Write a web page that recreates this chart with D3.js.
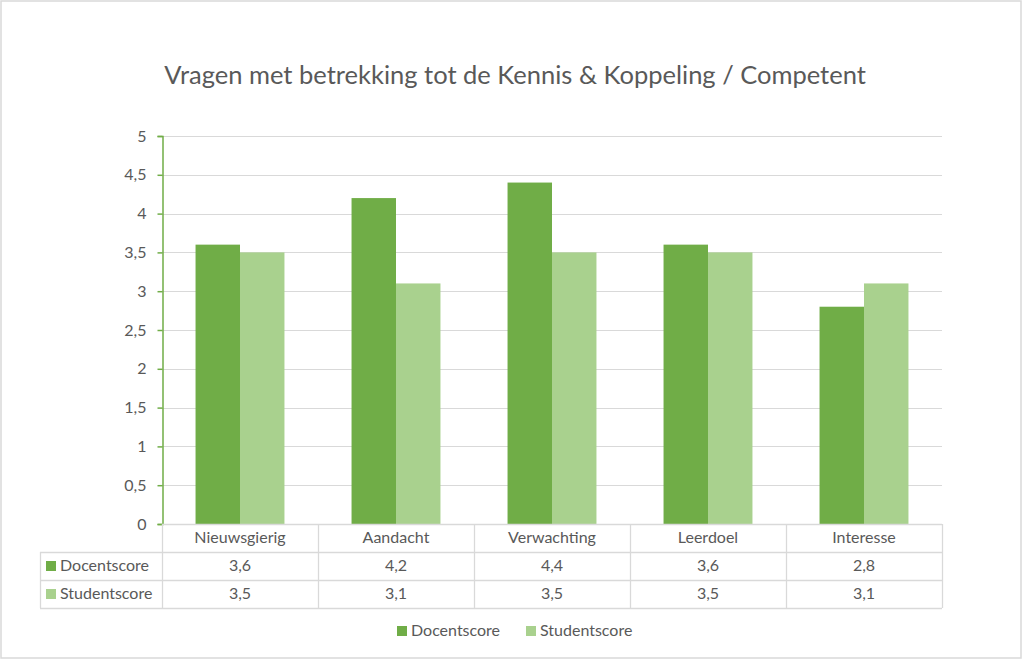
<!DOCTYPE html>
<html><head><meta charset="utf-8">
<script src="https://cdn.jsdelivr.net/npm/d3@7"></script>
<style>body{margin:0;background:#fff;} svg{display:block;}</style>
</head><body>
<script>
const categories = ["Nieuwsgierig","Aandacht","Verwachting","Leerdoel","Interesse"];
const seriesNames = ["Docentscore","Studentscore"];
const docentscore = [3.6,4.2,4.4,3.6,2.8];
const studentscore = [3.5,3.1,3.5,3.5,3.1];
const yTicks = [0,0.5,1,1.5,2,2.5,3,3.5,4,4.5,5];
const title = "Vragen met betrekking tot de Kennis & Koppeling / Competent";

const W=1023,H=660;
const colors=["#70ad47","#a9d18e"];
const font="Lato, 'Open Sans', sans-serif";
const textCol="#595959", gridCol="#d9d9d9";
const series=[docentscore,studentscore];
const fs=16;

const svg=d3.select("body").append("svg").attr("width",W).attr("height",H);
svg.append("rect").attr("x",1).attr("y",1).attr("width",W-3).attr("height",H-3)
  .attr("fill","#fff").attr("stroke","#d9d9d9").attr("stroke-width",1.5);

const L=162,R=942,T=136,B=524;
const x0=d3.scaleBand().domain(categories).range([L,R]).paddingInner(0.43).paddingOuter(0.215);
const x1=d3.scaleBand().domain(seriesNames).range([0,x0.bandwidth()]);
const y=d3.scaleLinear().domain([0,5]).range([B,T]);

// title
svg.append("text").attr("x",515).attr("y",84).attr("text-anchor","middle")
  .attr("font-family",font).attr("font-size",25.5).attr("fill",textCol).text(title);

// grid
svg.append("g").selectAll("line").data(yTicks.filter(d=>d>0)).join("line")
  .attr("x1",L).attr("x2",R).attr("y1",d=>Math.round(y(d))+0.5).attr("y2",d=>Math.round(y(d))+0.5)
  .attr("stroke",gridCol).attr("stroke-width",1);

// bars
const g=svg.append("g");
categories.forEach((c,i)=>{
  seriesNames.forEach((s,j)=>{
    g.append("rect").attr("x",x0(c)+x1(s)).attr("width",x1.bandwidth())
     .attr("y",y(series[j][i])).attr("height",B-y(series[j][i])).attr("fill",colors[j]);
  });
});

// y axis
const ya=svg.append("g").attr("transform",`translate(${L+0.5},0)`)
  .call(d3.axisLeft(y).tickValues(yTicks).tickSize(5).tickPadding(11).tickFormat(d=>String(d).replace(".",",")));
ya.select(".domain").attr("stroke","#70ad47").attr("stroke-width",1.5);
ya.selectAll(".tick line").attr("stroke","#70ad47").attr("stroke-width",1.5);
ya.selectAll("text").attr("font-family",font).attr("font-size",fs).attr("fill",textCol);

// data table
const rowH=28, tableL=40;
const rows=[B,B+rowH,B+2*rowH,B+3*rowH];
const tg=svg.append("g").attr("stroke",gridCol).attr("stroke-width",1.3).attr("fill","none");
tg.append("line").attr("x1",L).attr("x2",R).attr("y1",B+0.5).attr("y2",B+0.5);
[1,2,3].forEach(k=>tg.append("line").attr("x1",tableL).attr("x2",R).attr("y1",rows[k]+0.5).attr("y2",rows[k]+0.5));
tg.append("line").attr("x1",tableL+0.5).attr("x2",tableL+0.5).attr("y1",rows[1]).attr("y2",rows[3]);
const bounds=[L].concat(categories.map(c=>x0(c)+x0.bandwidth()+x0.step()*0.43/2));
bounds.forEach((bx,k)=>tg.append("line").attr("x1",Math.round(bx)+0.5).attr("x2",Math.round(bx)+0.5)
  .attr("y1",B).attr("y2",rows[3]));

categories.forEach((c,i)=>{
  const cx=x0(c)+x0.bandwidth()/2;
  svg.append("text").attr("x",cx).attr("y",B+19).attr("text-anchor","middle")
    .attr("font-family",font).attr("font-size",fs).attr("fill",textCol).text(c);
  series.forEach((s,j)=>{
    svg.append("text").attr("x",cx).attr("y",rows[j+1]+19).attr("text-anchor","middle")
      .attr("font-family",font).attr("font-size",fs).attr("fill",textCol).text(String(s[i]).replace(".",","));
  });
});
seriesNames.forEach((s,j)=>{
  svg.append("rect").attr("x",46).attr("y",rows[j+1]+9).attr("width",10).attr("height",10).attr("fill",colors[j]);
  svg.append("text").attr("x",60).attr("y",rows[j+1]+19)
    .attr("font-family",font).attr("font-size",fs).attr("fill",textCol).text(s);
});

// legend
const lg=svg.append("g");
const legX=[397,526];
seriesNames.forEach((s,j)=>{
  lg.append("rect").attr("x",legX[j]).attr("y",626).attr("width",10).attr("height",10).attr("fill",colors[j]);
  lg.append("text").attr("x",legX[j]+14).attr("y",636).attr("font-family",font).attr("font-size",fs)
    .attr("fill",textCol).text(s);
});
</script>
</body></html>
